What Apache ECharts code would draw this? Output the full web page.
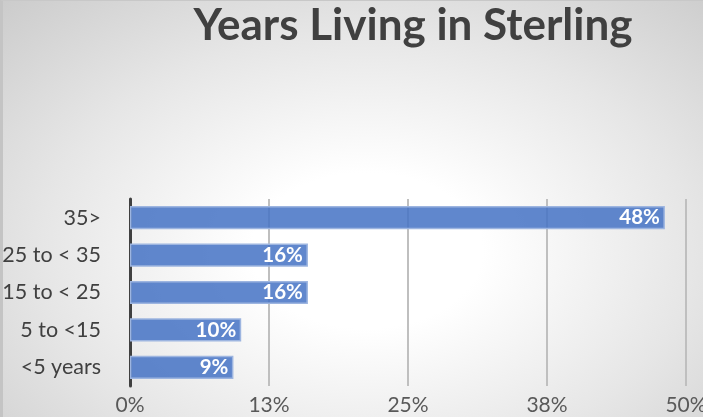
<!DOCTYPE html>
<html style="height: 100%">
<head>
    <meta charset="utf-8">
    <title>Years Living in Sterling</title>
    <script src="https://cdn.jsdelivr.net/npm/echarts@6/dist/echarts.min.js"></script>
</head>
<body style="height: 100%; margin: 0">
<div id="container" style="width: 703px; height: 417px; box-sizing: border-box; border-left: 3px solid #c4c4c4; border-top: 1px solid #c8c8c8;
     background: radial-gradient(ellipse 75% 85% at 52% 60%, #ffffff 0%, #ffffff 22%, #e6e6e6 62%, #cbcbcb 100%);"></div>

<script type="text/javascript">
    // data (bottom to top, as the category axis draws it)
    var categories = ['<5 years', '5 to <15', '15 to < 25', '25 to < 35', '35>'];
    var percents = [9.3, 10, 16, 16, 48.1];
    var tickLabels = ['0%', '13%', '25%', '38%', '50%'];

    var dom = document.getElementById('container');
    var myChart = echarts.init(dom);
    var font = 'Lato, "Open Sans", sans-serif';

    var option = {
        backgroundColor: 'transparent',
        title: {
            text: 'Years Living in Sterling',
            left: 405,
            textAlign: 'center',
            top: -2,
            textStyle: {
                color: '#404040',
                fontFamily: font,
                fontWeight: 'bold',
                fontSize: 44
            }
        },
        grid: {
            left: 127,
            right: 17,
            top: 198,
            bottom: 31,
            containLabel: false,
            outerBoundsMode: 'none'
        },
        xAxis: {
            type: 'value',
            min: 0,
            max: 50,
            interval: 12.5,
            axisLine: { show: false },
            axisTick: { show: false },
            splitLine: {
                show: true,
                lineStyle: { color: '#bfbfbf', width: 2 }
            },
            axisLabel: {
                color: '#595959',
                fontFamily: font,
                fontSize: 21,
                margin: 9,
                formatter: function (v) {
                    return tickLabels[Math.round(v / 12.5)];
                }
            }
        },
        yAxis: {
            type: 'category',
            data: categories,
            axisTick: { show: false },
            axisLine: {
                show: true,
                lineStyle: { color: '#404040', width: 3 }
            },
            axisLabel: {
                color: '#404040',
                fontFamily: font,
                fontSize: 21.5,
                margin: 29
            }
        },
        series: [{
            type: 'bar',
            data: percents,
            barCategoryGap: '38%',
            itemStyle: {
                color: 'rgba(68, 114, 196, 0.85)',
                borderColor: '#9db5e0',
                borderWidth: 1.5
            },
            label: {
                show: true,
                position: 'insideRight',
                distance: 5,
                color: '#ffffff',
                fontFamily: font,
                fontWeight: 'bold',
                fontSize: 20.5,
                formatter: function (p) {
                    return Math.round(p.value) + '%';
                }
            }
        }]
    };
    myChart.setOption(option);
</script>
</body>
</html>
